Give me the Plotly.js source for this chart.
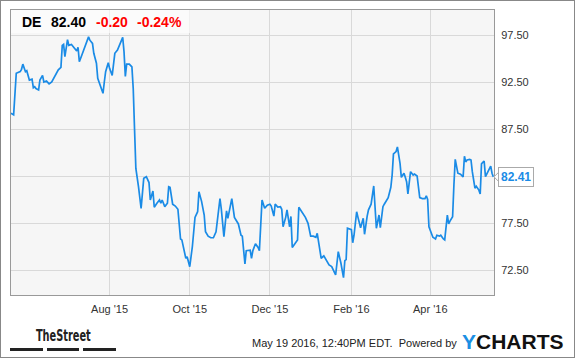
<!DOCTYPE html>
<html>
<head>
<meta charset="utf-8">
<script src="https://cdn.plot.ly/plotly-3.0.1.min.js"></script>
<style>
  html, body { margin: 0; padding: 0; background: #fff; }
  #wrap { position: relative; width: 575px; height: 358px; }
  #chart { width: 575px; height: 358px; }
  #frame { position: absolute; left: 0; top: 0; width: 575px; height: 358px; box-sizing: border-box; border: 1px solid #888; pointer-events: none; }
</style>
</head>
<body>
<div id="wrap"><div id="chart"></div><div id="frame"></div></div>
<script>
// ---- data ----
const ticker = 'DE';
const lastPrice = '82.40';
const change = '-0.20';
const changePct = '-0.24%';
const stamp = 'May 19 2016, 12:40PM EDT.  Powered by';

const dates = [
  '2015-05-18','2015-05-20','2015-05-22','2015-05-25','2015-05-26','2015-05-27','2015-05-29','2015-05-30','2015-05-31',
  '2015-06-01','2015-06-03','2015-06-04','2015-06-05','2015-06-06','2015-06-08','2015-06-09','2015-06-11','2015-06-12','2015-06-14','2015-06-16','2015-06-18','2015-06-20','2015-06-23','2015-06-25','2015-06-26','2015-06-27','2015-06-28','2015-06-30',
  '2015-07-01','2015-07-03','2015-07-05','2015-07-07','2015-07-08','2015-07-09','2015-07-11','2015-07-13','2015-07-14','2015-07-16','2015-07-17','2015-07-19','2015-07-20','2015-07-22','2015-07-23','2015-07-25','2015-07-27','2015-07-28','2015-07-29','2015-07-31',
  '2015-08-01','2015-08-03','2015-08-05','2015-08-07','2015-08-09','2015-08-11','2015-08-12','2015-08-13','2015-08-14','2015-08-16','2015-08-18','2015-08-19','2015-08-20','2015-08-21','2015-08-23','2015-08-25','2015-08-27','2015-08-29','2015-08-31',
  '2015-09-01','2015-09-03','2015-09-04','2015-09-06','2015-09-08','2015-09-09','2015-09-10','2015-09-12','2015-09-14','2015-09-15','2015-09-16','2015-09-18','2015-09-20','2015-09-22','2015-09-23','2015-09-24','2015-09-25','2015-09-27','2015-09-28','2015-09-29',
  '2015-10-01','2015-10-03','2015-10-05','2015-10-07','2015-10-08','2015-10-10','2015-10-12','2015-10-13','2015-10-15','2015-10-17','2015-10-19','2015-10-21','2015-10-24','2015-10-25','2015-10-27','2015-10-29','2015-10-30',
  '2015-11-02','2015-11-04','2015-11-07','2015-11-09','2015-11-10','2015-11-12','2015-11-13','2015-11-16','2015-11-17','2015-11-18','2015-11-20','2015-11-22','2015-11-23','2015-11-24','2015-11-25','2015-11-27','2015-11-29',
  '2015-12-01','2015-12-02','2015-12-04','2015-12-05','2015-12-07','2015-12-09','2015-12-10','2015-12-11','2015-12-13','2015-12-14','2015-12-16','2015-12-17','2015-12-18','2015-12-20','2015-12-22','2015-12-23','2015-12-25','2015-12-28','2015-12-30',
  '2016-01-01','2016-01-03','2016-01-05','2016-01-06','2016-01-07','2016-01-09','2016-01-11','2016-01-12','2016-01-13','2016-01-15','2016-01-17','2016-01-18','2016-01-20','2016-01-22','2016-01-24','2016-01-26','2016-01-27','2016-01-28','2016-01-29',
  '2016-02-01','2016-02-02','2016-02-03','2016-02-05','2016-02-06','2016-02-08','2016-02-10','2016-02-11','2016-02-13','2016-02-14','2016-02-16','2016-02-18','2016-02-20','2016-02-21','2016-02-22','2016-02-23','2016-02-25','2016-02-26','2016-02-28','2016-02-29',
  '2016-03-02','2016-03-03','2016-03-04','2016-03-06','2016-03-07','2016-03-09','2016-03-10','2016-03-12','2016-03-13','2016-03-14','2016-03-15','2016-03-17','2016-03-19','2016-03-20','2016-03-22','2016-03-23','2016-03-24','2016-03-26','2016-03-28','2016-03-29','2016-03-30','2016-03-31',
  '2016-04-02','2016-04-03','2016-04-05','2016-04-06','2016-04-08','2016-04-09','2016-04-11','2016-04-12','2016-04-14','2016-04-15','2016-04-16','2016-04-18','2016-04-19','2016-04-20','2016-04-22','2016-04-24','2016-04-26','2016-04-27','2016-04-28','2016-04-29',
  '2016-05-01','2016-05-02','2016-05-03','2016-05-05','2016-05-06','2016-05-08','2016-05-09','2016-05-10','2016-05-11','2016-05-12','2016-05-13','2016-05-15','2016-05-17','2016-05-18','2016-05-19'
];

const prices = [
  89.17, 89.0, 93.43, 93.6, 93.85, 94.4, 93.6, 93.7, 93.2,
  92.7, 92.8, 91.9, 92.0, 91.8, 91.65, 92.7, 93.2, 92.5, 92.6, 92.3, 92.5, 93.06, 93.8, 94.06, 96.4, 96.5, 95.2, 97.0,
  96.4, 96.5, 96.1, 95.8, 96.2, 94.66, 95.4, 96.1, 96.6, 97.3, 96.95, 96.6, 95.55, 94.5, 92.9, 92.2, 91.3, 92.5, 93.6, 94.56,
  93.95, 93.2, 95.55, 95.9, 96.6, 97.25, 95.7, 93.1, 94.4, 94.4, 94.1, 91.8, 87.5, 83.3, 81.36, 79.06, 82.25, 82.43, 81.8,
  79.95, 80.9, 79.17, 79.6, 79.95, 79.6, 79.95, 79.24, 79.6, 81.36, 81.3, 79.5, 79.3, 78.96, 77.47, 75.8, 75.7, 74.6, 73.75, 73.9,
  72.85, 75.0, 78.1, 78.7, 80.83, 79.8, 78.35, 76.57, 76.1, 75.93, 75.93, 76.57, 80.1, 79.0, 76.05, 78.8, 78.0,
  80.1, 78.1, 77.4, 76.2, 76.1, 73.14, 74.55, 74.6, 73.75, 74.55, 75.3, 74.9, 74.55, 76.76, 79.95, 79.06, 79.4,
  79.5, 79.3, 78.24, 79.5, 79.2, 79.24, 78.96, 77.1, 78.1, 78.9, 77.1, 78.2, 74.9, 75.3, 75.7, 79.17, 78.7, 78.1, 77.47,
  76.1, 76.1, 75.98, 76.4, 75.5, 73.75, 74.0, 73.75, 73.4, 73.03, 72.86, 72.5, 71.97, 74.45, 73.24, 71.68, 73.5, 73.6, 76.94,
  76.8, 75.4, 76.2, 78.7, 78.1, 77.0, 78.0, 76.3, 78.24, 78.9, 79.5, 81.44, 76.94, 77.8, 78.35, 77.0, 79.24, 79.5, 79.95, 80.2,
  81.3, 82.6, 84.84, 85.1, 85.6, 83.85, 82.36, 82.8, 82.36, 81.9, 80.6, 82.96, 82.6, 82.7, 82.5, 81.3, 80.2, 80.1, 80.1, 80.4, 80.0, 77.1,
  76.4, 75.98, 75.8, 76.2, 76.1, 76.2, 75.8, 75.7, 78.35, 77.4, 77.7, 78.17, 81.54, 84.27, 82.8, 82.7, 82.4, 84.6, 84.0, 84.2,
  84.27, 84.2, 82.96, 81.2, 81.4, 81.0, 80.6, 83.8, 83.95, 84.1, 82.43, 82.96, 83.56, 82.8, 82.41
];

const xTickVals = ['2015-08-01','2015-10-01','2015-12-01','2016-02-01','2016-04-01'];
const xTickText = ["Aug '15","Oct '15","Dec '15","Feb '16","Apr '16"];
const yTickVals = [72.5, 77.5, 82.5, 87.5, 92.5, 97.5];
// the 82.50 label is hidden behind the last-price label in the reference
const yTickText = ['72.50','77.50','','87.50','92.50','97.50'];

// ---- layout helpers (pixel -> paper) ----
const W = 575, H = 358, L = 11, R = 81, T = 10, B = 63;
const PW = W - L - R, PH = H - T - B;
const px = x => (x - L) / PW;
const py = y => 1 - (y - T) / PH;

const blue = '#1a8be6';
const lastVal = prices[prices.length - 1];
const yUnitsPerPx = (100.16 - 69.84) / PH;

const trace = {
  x: dates, y: prices, type: 'scatter', mode: 'lines',
  line: { color: blue, width: 1.7 }, hoverinfo: 'skip'
};

const font = 'Arial, "Liberation Sans", sans-serif';

const layout = {
  width: W, height: H,
  margin: { l: L, r: R, t: T, b: B, pad: 0 },
  paper_bgcolor: '#ffffff',
  plot_bgcolor: '#f6f6f6',
  showlegend: false,
  font: { family: font, size: 11, color: '#333' },
  xaxis: {
    type: 'date',
    range: ['2015-05-18', '2016-05-19 12:00'],
    tickvals: xTickVals, ticktext: xTickText,
    showgrid: true, gridcolor: '#d9d9d9', gridwidth: 1,
    showline: true, linecolor: '#999', linewidth: 1, mirror: true,
    ticks: 'outside', ticklen: 4, tickcolor: 'rgba(0,0,0,0)',
    tickfont: { family: font, size: 11, color: '#333' },
    zeroline: false, fixedrange: true
  },
  yaxis: {
    side: 'right',
    range: [69.84, 100.16],
    tickvals: yTickVals, ticktext: yTickText,
    showgrid: true, gridcolor: '#d9d9d9', gridwidth: 1,
    showline: true, linecolor: '#999', linewidth: 1, mirror: true,
    ticks: 'outside', ticklen: 4, tickcolor: 'rgba(0,0,0,0)',
    tickfont: { family: font, size: 11, color: '#333' },
    zeroline: false, fixedrange: true
  },
  shapes: [
    // header box
    { type: 'rect', xref: 'paper', yref: 'paper', x0: 0, x1: px(190), y0: py(33), y1: 1,
      fillcolor: 'rgba(255,255,255,0.6)', line: { width: 0 }, layer: 'above' },
    // pointer of last price label
    { type: 'path', xref: 'paper', yref: 'y',
      path: 'M ' + px(500) + ',' + (lastVal + 6 * yUnitsPerPx) + ' L ' + px(494) + ',' + lastVal + ' L ' + px(500) + ',' + (lastVal - 6 * yUnitsPerPx) + ' Z',
      fillcolor: '#ffffff', line: { color: '#aaaaaa', width: 1 }, layer: 'above' },
    // TheStreet bars
    { type: 'rect', xref: 'paper', yref: 'paper', x0: px(10), x1: px(43), y0: py(351), y1: py(348), fillcolor: '#222', line: { width: 0 } },
    { type: 'rect', xref: 'paper', yref: 'paper', x0: px(47), x1: px(79), y0: py(351), y1: py(348), fillcolor: '#222', line: { width: 0 } },
    { type: 'rect', xref: 'paper', yref: 'paper', x0: px(83), x1: px(116), y0: py(351), y1: py(348), fillcolor: '#222', line: { width: 0 } }
  ],
  annotations: [
    { xref: 'paper', yref: 'paper', x: px(20), y: py(22), xanchor: 'left', yanchor: 'middle', showarrow: false,
      text: '<b>' + ticker + '</b>', font: { family: font, size: 14, color: '#000' } },
    { xref: 'paper', yref: 'paper', x: px(49), y: py(22), xanchor: 'left', yanchor: 'middle', showarrow: false,
      text: '<b>' + lastPrice + '</b>', font: { family: font, size: 14, color: '#000' } },
    { xref: 'paper', yref: 'paper', x: px(94), y: py(22), xanchor: 'left', yanchor: 'middle', showarrow: false,
      text: '<b>' + change + '</b>', font: { family: font, size: 14, color: '#ff0000' } },
    { xref: 'paper', yref: 'paper', x: px(135), y: py(22), xanchor: 'left', yanchor: 'middle', showarrow: false,
      text: '<b>' + changePct + '</b>', font: { family: font, size: 14, color: '#ff0000' } },
    // last price label
    { xref: 'paper', yref: 'y', x: px(498), y: lastVal, xanchor: 'left', yanchor: 'middle', showarrow: false,
      text: '<b>' + lastVal.toFixed(2) + '</b>', font: { family: font, size: 12, color: blue },
      bgcolor: '#ffffff', bordercolor: '#aaaaaa', borderwidth: 1, borderpad: 2 },
    // footer
    { xref: 'paper', yref: 'paper', x: px(63), y: py(335), xanchor: 'center', yanchor: 'middle', showarrow: false,
      text: '<b>TheStreet</b>', font: { family: '"Liberation Sans Narrow", "Arial Narrow", "DejaVu Sans Condensed", sans-serif', size: 16, color: '#222' } },
    { xref: 'paper', yref: 'paper', x: px(459), y: py(343), xanchor: 'right', yanchor: 'middle', showarrow: false,
      text: stamp, font: { family: font, size: 11, color: '#222' } },
    { xref: 'paper', yref: 'paper', x: px(460), y: py(341), xanchor: 'left', yanchor: 'middle', showarrow: false,
      text: '<b><span style="color:#1b8fe3">Y</span>CHARTS</b>', font: { family: font, size: 21, color: '#111' } }
  ]
};

Plotly.newPlot('chart', [trace], layout, { displayModeBar: false, staticPlot: true }).then(function () {
  // condense the TheStreet wordmark to its narrow width in the reference
  document.querySelectorAll('.annotation-text').forEach(function (t) {
    if (t.textContent === 'TheStreet') {
      const bb = t.getBBox();
      const cx = bb.x + bb.width / 2;
      t.setAttribute('transform', 'translate(' + cx + ',0) scale(0.68,1) translate(' + (-cx) + ',0)');
    }
  });
});
</script>
</body>
</html>
